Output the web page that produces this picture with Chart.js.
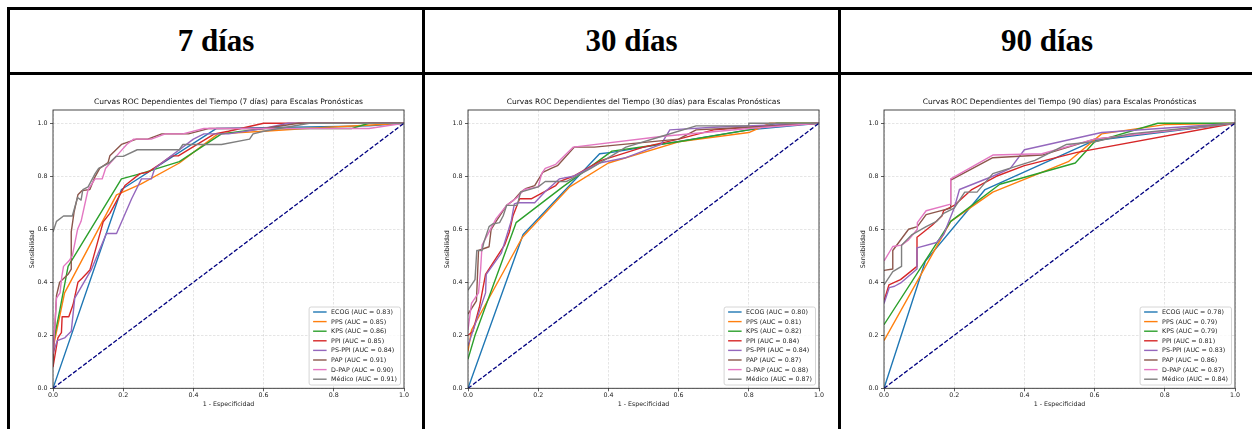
<!DOCTYPE html>
<html>
<head>
<meta charset="utf-8">
<script src="https://cdn.jsdelivr.net/npm/chart.js@4.4.1/dist/chart.umd.min.js"></script>
<style>
body { margin: 0; background: #fff; width: 1252px; height: 429px; overflow: hidden; position: relative; }
.rule { position: absolute; background: #000; }
.head { position: absolute; top: 10px; height: 62px; display: flex; align-items: center; justify-content: center;
        font: bold 31px "Liberation Serif", "Times New Roman", serif; color: #000; }
canvas { position: absolute; top: 75px; }
</style>
</head>
<body>
<!-- table grid -->
<div class="rule" style="left:7px;top:7px;width:1245px;height:3px"></div>
<div class="rule" style="left:7px;top:72px;width:1245px;height:3px"></div>
<div class="rule" style="left:7px;top:7px;width:3px;height:422px"></div>
<div class="rule" style="left:422px;top:7px;width:3px;height:422px"></div>
<div class="rule" style="left:838px;top:7px;width:3px;height:422px"></div>

<div class="head" style="left:10px;width:412px">7 días</div>
<div class="head" style="left:425px;width:413px">30 días</div>
<div class="head" style="left:841px;width:412px">90 días</div>

<canvas id="roc7" width="412" height="354" style="left:10px"></canvas>
<canvas id="roc30" width="412" height="354" style="left:425px"></canvas>
<canvas id="roc90" width="412" height="354" style="left:841px"></canvas>

<script>
const scaleNames = ['ECOG', 'PPS', 'KPS', 'PPI', 'PS-PPI', 'PAP', 'D-PAP', 'Médico'];
const colors = ['#1f77b4', '#ff7f0e', '#2ca02c', '#d62728', '#9467bd', '#8c564b', '#e377c2', '#7f7f7f'];
const axisTicks = [0, 0.2, 0.4, 0.6, 0.8, 1.0];

// AUC per scale
const auc7 = [0.83, 0.85, 0.86, 0.85, 0.84, 0.91, 0.90, 0.91];
const auc30 = [0.80, 0.81, 0.82, 0.84, 0.84, 0.87, 0.88, 0.87];
const auc90 = [0.78, 0.79, 0.79, 0.81, 0.83, 0.86, 0.87, 0.84];

// ROC points [1 - especificidad, sensibilidad], 7 días
const ecog7 = [[0,0],[0.195,0.75],[0.465,0.98],[0.9,0.99],[1,1]];
const pps7 = [[0,0.15],[0.033,0.36],[0.181,0.73],[0.25,0.77],[0.36,0.85],[0.47,0.96],[0.6,0.97],[0.72,0.98],[1,1]];
const kps7 = [[0,0.165],[0.02,0.3],[0.043,0.46],[0.195,0.79],[0.25,0.81],[0.36,0.855],[0.48,0.96],[0.6,0.98],[0.85,0.98],[0.9,1],[1,1]];
const ppi7 = [[0,0.08],[0.014,0.19],[0.024,0.21],[0.026,0.27],[0.045,0.27],[0.057,0.315],[0.071,0.4],[0.083,0.415],[0.105,0.446],[0.143,0.628],[0.162,0.66],[0.205,0.765],[0.248,0.81],[0.27,0.815],[0.305,0.846],[0.338,0.877],[0.357,0.877],[0.46,0.96],[0.5,0.97],[0.6,1],[1,1]];
const pspi7 = [[0,0.13],[0.012,0.18],[0.033,0.19],[0.052,0.215],[0.062,0.34],[0.11,0.45],[0.152,0.584],[0.181,0.584],[0.224,0.715],[0.252,0.79],[0.28,0.79],[0.29,0.83],[0.4,0.94],[0.43,0.96],[0.5,0.96],[0.6,0.98],[0.67,1],[1,1]];
const pap7 = [[0,0.09],[0.01,0.35],[0.019,0.4],[0.043,0.43],[0.052,0.45],[0.052,0.59],[0.06,0.665],[0.071,0.73],[0.083,0.746],[0.105,0.75],[0.119,0.796],[0.133,0.83],[0.157,0.852],[0.162,0.877],[0.195,0.92],[0.238,0.94],[0.27,0.94],[0.31,0.96],[0.386,0.96],[0.443,0.98],[0.6,0.98],[0.7,1],[1,1]];
const dpap7 = [[0,0.13],[0.01,0.34],[0.02,0.36],[0.025,0.42],[0.03,0.46],[0.045,0.48],[0.055,0.5],[0.07,0.6],[0.08,0.63],[0.1,0.75],[0.12,0.79],[0.14,0.79],[0.15,0.83],[0.17,0.86],[0.19,0.89],[0.21,0.92],[0.23,0.94],[0.28,0.94],[0.32,0.96],[0.37,0.96],[0.43,0.98],[0.9,0.98],[1,1]];
const med7 = [[0,0.59],[0.01,0.63],[0.03,0.65],[0.055,0.65],[0.07,0.72],[0.08,0.71],[0.085,0.75],[0.1,0.76],[0.12,0.81],[0.13,0.83],[0.16,0.85],[0.18,0.875],[0.2,0.875],[0.24,0.9],[0.36,0.9],[0.37,0.92],[0.48,0.92],[0.56,0.94],[0.57,0.96],[0.6,0.97],[0.73,1],[1,1]];

// 30 días
const ecog30 = [[0,0],[0.157,0.58],[0.375,0.885],[0.41,0.89],[0.8,0.975],[1,1]];
const pps30 = [[0,0.14],[0.01,0.22],[0.155,0.57],[0.29,0.76],[0.4,0.85],[0.6,0.93],[0.8,0.965],[0.86,1],[1,1]];
const kps30 = [[0,0.11],[0.02,0.2],[0.137,0.625],[0.27,0.76],[0.41,0.895],[0.6,0.93],[0.8,0.975],[0.88,1],[1,1]];
const ppi30 = [[0,0.2],[0.014,0.215],[0.033,0.31],[0.05,0.43],[0.104,0.54],[0.118,0.59],[0.128,0.65],[0.147,0.715],[0.18,0.715],[0.25,0.765],[0.26,0.78],[0.3,0.8],[0.38,0.86],[0.5,0.91],[0.6,0.94],[0.7,0.975],[0.8,0.985],[1,1]];
const pspi30 = [[0,0.16],[0.025,0.26],[0.05,0.36],[0.052,0.43],[0.095,0.51],[0.123,0.63],[0.132,0.696],[0.142,0.7],[0.19,0.7],[0.218,0.74],[0.26,0.79],[0.3,0.8],[0.374,0.85],[0.45,0.87],[0.55,0.92],[0.575,0.975],[0.7,0.985],[1,1]];
const pap30 = [[0,0.28],[0.024,0.33],[0.03,0.52],[0.06,0.534],[0.066,0.6],[0.08,0.63],[0.09,0.65],[0.11,0.69],[0.13,0.71],[0.15,0.74],[0.166,0.754],[0.19,0.765],[0.213,0.815],[0.237,0.83],[0.255,0.84],[0.303,0.91],[0.36,0.91],[0.6,0.94],[0.65,0.975],[0.8,0.985],[1,1]];
const dpap30 = [[0,0.22],[0.01,0.32],[0.03,0.36],[0.036,0.45],[0.04,0.54],[0.08,0.64],[0.11,0.69],[0.14,0.72],[0.16,0.75],[0.2,0.76],[0.21,0.81],[0.22,0.83],[0.25,0.845],[0.3,0.91],[0.55,0.95],[0.8,0.98],[1,1]];
const med30 = [[0,0.37],[0.02,0.41],[0.025,0.52],[0.04,0.52],[0.045,0.55],[0.06,0.61],[0.07,0.62],[0.09,0.625],[0.1,0.65],[0.11,0.69],[0.14,0.69],[0.15,0.74],[0.2,0.76],[0.22,0.78],[0.28,0.78],[0.35,0.83],[0.45,0.91],[0.55,0.95],[0.65,0.99],[0.8,0.99],[0.8,1],[1,1]];

// 90 días
const ecog90 = [[0,0],[0.118,0.48],[0.288,0.75],[0.6,0.935],[1,1]];
const pps90 = [[0,0.18],[0.19,0.63],[0.31,0.74],[0.525,0.855],[0.62,0.96],[0.8,0.995],[1,1]];
const kps90 = [[0,0.24],[0.19,0.63],[0.33,0.77],[0.545,0.85],[0.6,0.93],[0.78,1],[1,1]];
const ppi90 = [[0,0.33],[0.014,0.39],[0.047,0.41],[0.094,0.46],[0.094,0.57],[0.137,0.615],[0.165,0.65],[0.17,0.67],[0.2,0.69],[0.25,0.75],[0.32,0.8],[0.4,0.84],[0.55,0.89],[1,1]];
const pspi90 = [[0,0.32],[0.015,0.38],[0.03,0.385],[0.05,0.4],[0.094,0.45],[0.094,0.53],[0.15,0.55],[0.17,0.58],[0.2,0.68],[0.215,0.75],[0.31,0.8],[0.36,0.83],[0.4,0.9],[0.62,0.965],[1,1]];
const pap90 = [[0,0.445],[0.025,0.45],[0.025,0.52],[0.07,0.6],[0.095,0.61],[0.12,0.655],[0.19,0.68],[0.19,0.785],[0.31,0.87],[0.45,0.88],[0.6,0.94],[1,1]];
const dpap90 = [[0,0.48],[0.025,0.535],[0.05,0.54],[0.07,0.56],[0.095,0.6],[0.095,0.625],[0.12,0.67],[0.19,0.695],[0.19,0.79],[0.31,0.88],[0.45,0.885],[0.6,0.94],[1,1]];
const med90 = [[0,0.39],[0.025,0.44],[0.05,0.46],[0.05,0.54],[0.08,0.58],[0.12,0.61],[0.15,0.63],[0.17,0.66],[0.2,0.68],[0.21,0.7],[0.23,0.74],[0.265,0.74],[0.31,0.81],[0.43,0.86],[0.52,0.92],[0.6,0.93],[0.7,0.96],[1,1]];

const chance = [[0,0],[1,1]];

const textColor = '#222';
const smallFont = { family: '"DejaVu Sans", sans-serif', size: 6.3 };

// axes box around the plot area
const frame = {
  id: 'frame',
  afterDatasetsDraw(chart) {
    const { ctx, chartArea: a } = chart;
    ctx.save();
    ctx.strokeStyle = '#333';
    ctx.lineWidth = 0.9;
    ctx.strokeRect(a.left, a.top, a.right - a.left, a.bottom - a.top);
    ctx.restore();
  }
};

// legend box in the lower right corner of the plot
const rocLegend = {
  id: 'rocLegend',
  afterDraw(chart) {
    const { ctx, chartArea: a } = chart;
    const sets = chart.data.datasets.filter(d => d.label);
    ctx.save();
    ctx.font = '6.3px "DejaVu Sans", sans-serif';
    const textW = Math.max(...sets.map(d => ctx.measureText(d.label).width));
    const rowH = 9.6;
    const w = 22 + textW + 3.5;
    const h = 10.8 + rowH * (sets.length - 1);
    const x = a.right - 3.5 - w;
    const y = a.bottom - 3.3 - h;
    ctx.fillStyle = 'rgba(255,255,255,0.8)';
    ctx.strokeStyle = '#cccccc';
    ctx.lineWidth = 0.8;
    ctx.beginPath();
    ctx.roundRect(x, y, w, h, 2);
    ctx.fill();
    ctx.stroke();
    ctx.textBaseline = 'middle';
    sets.forEach((d, i) => {
      const cy = y + 5 + i * rowH;
      ctx.strokeStyle = d.borderColor;
      ctx.lineWidth = 1.4;
      ctx.beginPath();
      ctx.moveTo(x + 4, cy);
      ctx.lineTo(x + 17.5, cy);
      ctx.stroke();
      ctx.fillStyle = textColor;
      ctx.fillText(d.label, x + 22, cy + 0.3);
    });
    ctx.restore();
  }
};

function axis(titleText, isX) {
  return {
    type: 'linear',
    min: 0,
    max: isX ? 1 : 1.05,
    afterBuildTicks: s => { s.ticks = axisTicks.map(v => ({ value: v })); },
    ticks: {
      callback: v => v.toFixed(1),
      font: smallFont,
      color: textColor,
      padding: isX ? 0.5 : 2.5,
      maxRotation: 0,
      autoSkip: false
    },
    grid: {
      color: 'rgba(0,0,0,0.15)',
      lineWidth: 0.7,
      tickLength: 3,
      tickColor: '#333',
      tickWidth: 0.8
    },
    border: { display: false, dash: [2.5, 1.5] },
    title: {
      display: true,
      text: titleText,
      font: smallFont,
      color: textColor,
      padding: isX ? { top: 0, bottom: 21.3 } : { top: 19, bottom: 0 }
    },
    afterFit: s => {
      if (isX) s.height = 40.7; else s.width = 43;
    }
  };
}

function rocChart(id, days, curves, aucs) {
  const datasets = curves.map((pts, i) => ({
    label: scaleNames[i] + ' (AUC = ' + aucs[i].toFixed(2) + ')',
    data: pts.map(([x, y]) => ({ x, y })),
    borderColor: colors[i],
    borderWidth: 1.4,
    borderJoinStyle: 'round',
    pointRadius: 0,
    showLine: true,
    order: 20 - i
  }));
  datasets.push({
    data: chance.map(([x, y]) => ({ x, y })),
    borderColor: '#000080',
    borderWidth: 1.3,
    borderDash: [4.4, 1.9],
    pointRadius: 0,
    showLine: true,
    order: 0
  });

  return new Chart(document.getElementById(id), {
    type: 'scatter',
    data: { datasets },
    options: {
      responsive: false,
      animation: false,
      events: [],
      layout: { padding: { left: 0, right: 18, top: 0, bottom: 0 } },
      scales: {
        x: axis('1 - Especificidad', true),
        y: axis('Sensibilidad', false)
      },
      plugins: {
        legend: { display: false },
        tooltip: { enabled: false },
        title: {
          display: true,
          fullSize: false,
          text: 'Curvas ROC Dependientes del Tiempo (' + days + ' días) para Escalas Pronósticas',
          font: { family: '"DejaVu Sans", sans-serif', size: 7.5, weight: 'normal' },
          color: '#111',
          padding: { top: 22.5, bottom: 3.5 }
        }
      }
    },
    plugins: [frame, rocLegend]
  });
}

rocChart('roc7', 7, [ecog7, pps7, kps7, ppi7, pspi7, pap7, dpap7, med7], auc7);
rocChart('roc30', 30, [ecog30, pps30, kps30, ppi30, pspi30, pap30, dpap30, med30], auc30);
rocChart('roc90', 90, [ecog90, pps90, kps90, ppi90, pspi90, pap90, dpap90, med90], auc90);
</script>
</body>
</html>
